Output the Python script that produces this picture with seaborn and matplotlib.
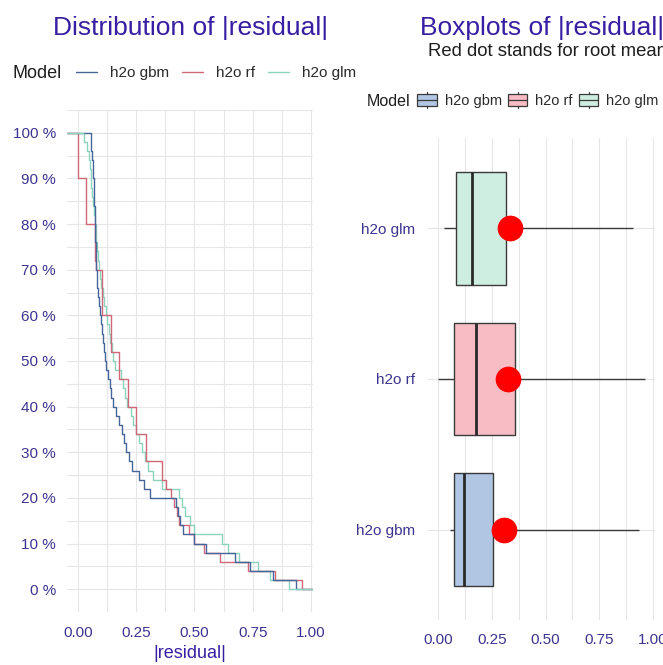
import numpy as np
import pandas as pd
import matplotlib
matplotlib.use("Agg")
import matplotlib.pyplot as plt
import seaborn as sns
from matplotlib.lines import Line2D
from matplotlib.patches import Patch, Rectangle
from matplotlib.legend_handler import HandlerBase
from matplotlib.ticker import MultipleLocator

# ---------------- data (|residual| per model) ----------------
models = ["h2o gbm", "h2o rf", "h2o glm"]

gbm_abs_residual = [0.056, 0.058, 0.060, 0.063, 0.065, 0.067, 0.068, 0.070, 0.072, 0.073,
                    0.074, 0.075, 0.076, 0.077, 0.078, 0.080, 0.083, 0.086, 0.089, 0.093,
                    0.098, 0.103, 0.108, 0.112, 0.116, 0.121, 0.128, 0.136, 0.144, 0.152,
                    0.162, 0.176, 0.190, 0.199, 0.208, 0.220, 0.233, 0.262, 0.285, 0.310,
                    0.420, 0.428, 0.437, 0.452, 0.500, 0.548, 0.673, 0.738, 0.838, 0.936]

rf_abs_residual = [0.001, 0.001, 0.002, 0.002, 0.002, 0.035, 0.035, 0.035, 0.035, 0.035,
                   0.072, 0.073, 0.074, 0.075, 0.076, 0.105, 0.105, 0.105, 0.105, 0.105,
                   0.144, 0.144, 0.144, 0.144, 0.177, 0.177, 0.177, 0.216, 0.216, 0.216,
                   0.250, 0.250, 0.250, 0.291, 0.291, 0.291, 0.360, 0.360, 0.380, 0.400,
                   0.414, 0.425, 0.435, 0.478, 0.500, 0.543, 0.608, 0.730, 0.846, 0.961]

glm_abs_residual = [0.028, 0.040, 0.046, 0.051, 0.055, 0.058, 0.062, 0.066, 0.069, 0.073,
                    0.076, 0.079, 0.082, 0.086, 0.091, 0.096, 0.101, 0.106, 0.113, 0.120,
                    0.126, 0.132, 0.138, 0.145, 0.152, 0.160, 0.183, 0.192, 0.201, 0.211,
                    0.227, 0.238, 0.250, 0.262, 0.274, 0.288, 0.302, 0.322, 0.360, 0.435,
                    0.445, 0.460, 0.480, 0.500, 0.620, 0.645, 0.690, 0.775, 0.824, 0.908]

line_colors = ["#46669a", "#d0687a", "#8bd3bd"]
box_fills = ["#b0c6e3", "#f7bcc4", "#cfeee2"]

x_ticks = [0.0, 0.25, 0.5, 0.75, 1.0]
x_tick_labels = ["0.00", "0.25", "0.50", "0.75", "1.00"]
pct_ticks = [0.0, 0.1, 0.2, 0.3, 0.4, 0.5, 0.6, 0.7, 0.8, 0.9, 1.0]
pct_labels = ["0 %", "10 %", "20 %", "30 %", "40 %", "50 %", "60 %", "70 %", "80 %", "90 %", "100 %"]

residual_lists = [gbm_abs_residual, rf_abs_residual, glm_abs_residual]
df = pd.DataFrame({
    "model": np.repeat(models, [len(v) for v in residual_lists]),
    "abs_residual": np.concatenate(residual_lists),
})

# ---------------- style ----------------
sns.set_theme(style="white")
plt.rcParams["font.family"] = ["Liberation Sans", "DejaVu Sans"]
TITLE_C = "#371ea3"
TICK_C = "#3b3490"
GRID_C = "#e6e6e6"

fig = plt.figure(figsize=(6.63, 6.65), dpi=100)
W, H = 663.0, 665.0


def fx(px):
    return px / W


def fy(py):
    return 1 - py / H


# ---------------- left: reverse ECDF ----------------
ax1 = fig.add_axes([fx(67), fy(612), (313 - 67) / W, (612 - 110) / H])
sns.ecdfplot(data=df, x="abs_residual", hue="model", hue_order=models,
             palette=dict(zip(models, line_colors)), complementary=True,
             linewidth=1.0, legend=False, ax=ax1)
ax1.margins(x=0.05)
ax1.set_ylim(-0.05, 1.05)
ax1.autoscale_view()
xl = ax1.get_xlim()
# like ggplot's stat_ecdf padding: extend each step curve to the panel edges
for vals, c in zip(residual_lists, line_colors):
    ax1.hlines(1.0, xl[0], min(vals), color=c, linewidth=1.0)
    ax1.hlines(0.0, max(vals), xl[1], color=c, linewidth=1.0)
ax1.set_xlim(xl)
ax1.set_xticks(x_ticks, x_tick_labels)
ax1.set_yticks(pct_ticks, pct_labels)
ax1.xaxis.set_minor_locator(MultipleLocator(0.125))
ax1.yaxis.set_minor_locator(MultipleLocator(0.05))
ax1.grid(True, which="both", color=GRID_C, linewidth=0.8)
ax1.set_axisbelow(True)
for s in ax1.spines.values():
    s.set_visible(False)
ax1.tick_params(which="both", length=0)
ax1.tick_params(axis="y", pad=8, labelsize=11, labelcolor=TICK_C)
ax1.tick_params(axis="x", pad=10, labelsize=11, labelcolor=TICK_C)
ax1.set_ylabel("")
ax1.set_xlabel("|residual|", fontsize=13, color=TITLE_C, labelpad=4)

# ---------------- right: boxplots ----------------
order_top_down = ["h2o glm", "h2o rf", "h2o gbm"]
fill_map = dict(zip(models, box_fills))
ax2 = fig.add_axes([fx(428), fy(620), (655 - 428) / W, (620 - 138) / H])
sns.boxplot(data=df, x="abs_residual", y="model", hue="model", order=order_top_down,
            hue_order=order_top_down, palette=fill_map, saturation=1, whis=(0, 100),
            width=0.75, linecolor="#3a3a3a", linewidth=1.0, showfliers=False,
            showcaps=False, legend=False,
            medianprops={"linewidth": 2.0, "color": "#2a2a2a"}, ax=ax2)


def rmse(v):
    return np.sqrt(np.mean(np.square(v)))


sns.pointplot(data=df, x="abs_residual", y="model", order=order_top_down,
              estimator=rmse, errorbar=None, color="red", linestyle="none",
              marker="o", markersize=18.5, markeredgewidth=0, ax=ax2)
ax2.margins(x=0.05)
ax2.set_ylim(2.6, -0.6)
ax2.set_xticks(x_ticks, x_tick_labels)
ax2.xaxis.set_minor_locator(MultipleLocator(0.125))
ax2.grid(True, axis="x", which="both", color=GRID_C, linewidth=0.8)
ax2.grid(True, axis="y", which="major", color=GRID_C, linewidth=0.8)
ax2.set_axisbelow(True)
for s in ax2.spines.values():
    s.set_visible(False)
ax2.tick_params(which="both", length=0)
ax2.tick_params(axis="y", pad=9, labelsize=11, labelcolor=TICK_C)
ax2.tick_params(axis="x", pad=9, labelsize=11, labelcolor=TICK_C)
ax2.set_xlabel("")
ax2.set_ylabel("")

# ---------------- titles ----------------
fig.text(fx(190.5), fy(35), "Distribution of |residual|", ha="center", va="baseline",
         fontsize=19, color=TITLE_C)
fig.text(fx(420), fy(35), "Boxplots of |residual|", ha="left", va="baseline",
         fontsize=19, color=TITLE_C)
fig.text(fx(428), fy(56), "Red dot stands for root mean square of residuals", ha="left",
         va="baseline", fontsize=13.3, color="#1e1e1e")

# ---------------- legends ----------------
fig.text(fx(13), fy(78), "Model", ha="left", va="baseline", fontsize=13, color="#1e1e1e")
line_handles = [Line2D([], [], color=c, linewidth=1.0) for c in line_colors]
fig.legend(line_handles, models, loc="center left", bbox_to_anchor=(fx(76), fy(73)),
           ncol=3, frameon=False, fontsize=11, handlelength=1.37, handletextpad=0.85,
           columnspacing=0.85, borderpad=0, borderaxespad=0, labelcolor="#2a2a2a")


class BoxKey(HandlerBase):
    def create_artists(self, legend, orig_handle, xdescent, ydescent, width, height,
                       fontsize, trans):
        x0, y0 = -xdescent, -ydescent
        fc = orig_handle.get_facecolor()
        rect = Rectangle((x0, y0 + 0.15 * height), width, 0.7 * height, facecolor=fc,
                         edgecolor="#3a3a3a", linewidth=0.9, transform=trans)
        mid = Line2D([x0, x0 + width], [y0 + 0.5 * height] * 2, color="#3a3a3a",
                     linewidth=0.9, transform=trans)
        cx = x0 + width / 2
        top = Line2D([cx, cx], [y0 + 0.85 * height, y0 + height], color="#3a3a3a",
                     linewidth=0.9, transform=trans)
        bot = Line2D([cx, cx], [y0, y0 + 0.15 * height], color="#3a3a3a",
                     linewidth=0.9, transform=trans)
        return [rect, mid, top, bot]


fig.text(fx(367), fy(106), "Model", ha="left", va="baseline", fontsize=11.5, color="#1e1e1e")
box_handles = [Patch(facecolor=c) for c in box_fills]
fig.legend(box_handles, models, loc="center left", bbox_to_anchor=(fx(417), fy(100)),
           ncol=3, frameon=False, fontsize=10.5, handlelength=1.35, handleheight=1.35,
           handletextpad=0.55, columnspacing=0.4, borderpad=0, borderaxespad=0,
           labelcolor="#2a2a2a", handler_map={Patch: BoxKey()})

fig.savefig("out.png", dpi=100)
